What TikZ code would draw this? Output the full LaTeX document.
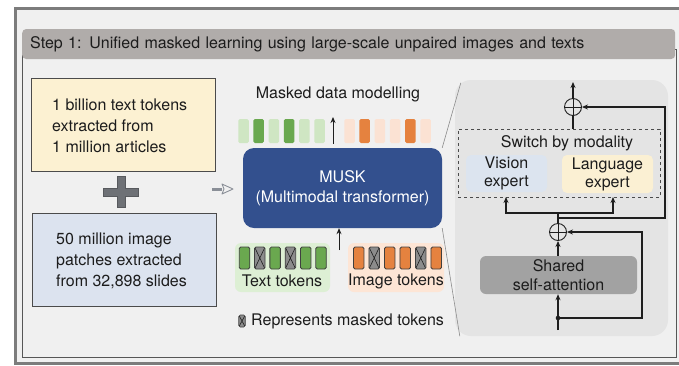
\documentclass[tikz,border=0pt]{standalone}
\usepackage{fontspec}
\setmainfont{TeX Gyre Heros}
\usetikzlibrary{arrows.meta}

\definecolor{pagebg}{HTML}{F0F0F0}
\definecolor{framec}{HTML}{7C7C7C}
\definecolor{linec}{HTML}{1E1E1E}
\definecolor{txtc}{HTML}{1C1C1C}
\definecolor{hdrc}{HTML}{B0ACAA}
\definecolor{yelc}{HTML}{FCF1D2}
\definecolor{bluec}{HTML}{DCE3EF}
\definecolor{plusc}{HTML}{6E7176}
\definecolor{muskc}{HTML}{33508E}
\definecolor{panelc}{HTML}{E4E4E4}
\definecolor{visc}{HTML}{DCE4EF}
\definecolor{langc}{HTML}{FBF0D3}
\definecolor{attc}{HTML}{A2A2A2}
\definecolor{lgreen}{HTML}{CFE6C3}
\definecolor{dgreen}{HTML}{6AA84F}
\definecolor{lorange}{HTML}{FBE2D3}
\definecolor{dorange}{HTML}{E5823F}
\definecolor{ggrp}{HTML}{DDEFD4}
\definecolor{ogrp}{HTML}{FDE5D5}
\definecolor{maskc}{HTML}{8C8C8C}
\definecolor{hollowc}{HTML}{8A8F97}

\begin{document}
\begin{tikzpicture}[x=1pt,y=-1pt,
  font=\fontsize{16}{21}\selectfont, text=txtc,
  hdr/.style={fill=hdrc, rounded corners=4pt, minimum height=30pt,
    text width=637pt, inner xsep=8pt, align=left, anchor=west},
  srcbox/.style={draw=linec!80, line width=0.9pt, minimum width=184pt,
    minimum height=93pt, inner sep=0pt},
  srctxt/.style={anchor=west, align=left, inner sep=0pt},
  musk/.style={fill=muskc, rounded corners=11pt, minimum width=199pt,
    minimum height=80pt, text=white, align=center,
    font=\fontsize{16}{20}\selectfont},
  toptok/.style={minimum width=10.5pt, minimum height=24pt, inner sep=0pt,
    rounded corners=1.5pt},
  btok/.style={draw=linec!85, line width=0.8pt, minimum width=10.5pt,
    minimum height=22pt, inner sep=0pt, rounded corners=1.5pt},
  gtok/.style={fill=dgreen},
  otok/.style={fill=dorange},
  mtok/.style={fill=maskc, path picture={
    \draw[linec, line width=0.6pt]
      (path picture bounding box.north west) -- (path picture bounding box.south east)
      (path picture bounding box.north east) -- (path picture bounding box.south west);}},
  grp/.style={rounded corners=6pt, minimum height=49pt, inner sep=0pt},
  panel/.style={fill=panelc, rounded corners=16pt, minimum width=213pt,
    minimum height=256pt, inner sep=0pt},
  expert/.style={rounded corners=5pt, align=center, inner sep=0pt,
    font=\fontsize{16}{18}\selectfont},
  attn/.style={fill=attc, rounded corners=6pt, align=center, inner sep=0pt,
    minimum width=157pt, minimum height=38pt, font=\fontsize{16}{19}\selectfont},
  oplus/.style={circle, draw=linec, line width=0.9pt, minimum size=17pt,
    inner sep=0pt, path picture={
    \draw[linec, line width=0.9pt]
      (path picture bounding box.north) -- (path picture bounding box.south)
      (path picture bounding box.west) -- (path picture bounding box.east);}},
  arr/.style={draw=linec, line width=1.1pt, -{Stealth[length=6pt,width=5pt]}},
  wire/.style={draw=linec, line width=1.1pt},
  zoomline/.style={draw=black!45, line width=0.6pt}
]
\useasboundingbox (0,0) rectangle (679,365);
\clip (0,0) rectangle (679,365);

% page and frames
\fill[white] (0,0) rectangle (679,365);
\fill[pagebg] (15,8) rectangle (700,363);
\draw[framec, line width=3pt] (15,8) rectangle (700,363);
\draw[linec!75, line width=0.9pt] (22,49) rectangle (676,357);

% title bar
\node[hdr] (title) at (22,44)
  {Step 1: Unified masked learning using large-scale unpaired images and texts};

% data sources
\node[srcbox, fill=yelc] (textsrc) at (123,124.5) {};
\node[srctxt] (textsrcl) at (52,126)
  {1 billion text tokens\\extracted from\\1 million articles};
\node[srcbox, fill=bluec] (imgsrc) at (124,259.5) {};
\node[srctxt] (imgsrcl) at (56,261)
  {50 million image\\patches extracted\\from 32,898 slides};

% plus sign between the sources
\filldraw[fill=plusc, draw=plusc!80!black, line width=0.6pt]
  (117,176.5) -- (125,176.5) -- (125,188) -- (138.5,188) -- (138.5,196)
  -- (125,196) -- (125,207.5) -- (117,207.5) -- (117,196) -- (103.5,196)
  -- (103.5,188) -- (117,188) -- cycle;

% model
\node[musk] (musk) at (342.5,188) {MUSK\\(Multimodal transformer)};

% hollow arrow into the model
\coordinate (feedA) at (212,189);
\coordinate (feedB) at (222,189);
\coordinate (feedC) at (233,189);
\draw[hollowc, line width=3pt] (feedA) -- (feedB);
\draw[hollowc, line width=0.9pt, fill=pagebg, line join=round]
  (feedB |- 0,184) -- (feedC) -- (feedB |- 0,194) -- (224,189) -- cycle;

% masked data modelling output
\node (mdm) at (338,94) {Masked data modelling};
\foreach \c [count=\i] in {lgreen,dgreen,lgreen,dgreen,lgreen,lgreen}
  \node[toptok, fill=\c] (og\i) at ({243.5+15.2*(\i-1)},131) {};
\foreach \c [count=\i] in {lorange,dorange,lorange,lorange,dorange,lorange}
  \node[toptok, fill=\c] (oo\i) at ({349.5+15.2*(\i-1)},131) {};
\coordinate (outbase) at (333,143.5);
\coordinate (outtip) at (333,117);
\draw[arr, line width=0.9pt] (outbase) -- (outtip);

% input tokens
\node[grp, fill=ggrp, minimum width=95pt] (txtgrp) at (282.5,267.5) {};
\node[grp, fill=ogrp, minimum width=96pt] (imggrp) at (396,267.5) {};
\foreach \s [count=\i] in {gtok,mtok,gtok,mtok,gtok,gtok}
  \node[btok, \s] (it\i) at ({244.5+15.3*(\i-1)},258) {};
\foreach \s [count=\i] in {otok,mtok,otok,otok,mtok,otok}
  \node[btok, \s] (ii\i) at ({358.7+15.5*(\i-1)},258) {};
\node (txtlbl) at (282,281) {Text tokens};
\node (imglbl) at (396,281) {Image tokens};
\coordinate (musin) at (339,250);
\draw[arr, line width=0.9pt] (musin) -- (musin |- musk.south);

% legend
\node[btok, mtok, minimum width=6.5pt, minimum height=12pt, line width=0.6pt]
  (legtok) at (242,321) {};
\node[anchor=west, inner sep=0pt] (legtxt) at (251,321) {Represents masked tokens};

% detail panel of one transformer block
\node[panel] (panel) at (561.5,208) {};
\draw[zoomline] (musk.north east) -- ([xshift=6pt,yshift=-3pt]panel.north west);
\draw[zoomline] (musk.south east) -- ([xshift=5pt]panel.south west);

\node[draw=linec!80, dashed, line width=0.8pt, minimum width=202pt,
  minimum height=68pt, inner sep=0pt] (switch) at (559,163) {};
\node (swlbl) at (567,143) {Switch by modality};
\node[expert, fill=visc, minimum width=81pt, minimum height=37pt]
  (vis) at (506.5,173.5) {Vision\\expert};
\node[expert, fill=langc, minimum width=91pt, minimum height=38pt]
  (lang) at (607.5,174) {Language\\expert};

\node[oplus] (addtop) at (573,107) {};
\node[oplus] (addlow) at (558,232) {};
\node[attn] (attn) at (558.5,275) {Shared\\self-attention};

% block input, attention and first residual
\coordinate (blkin) at (558,330);
\coordinate (split) at (558,318);
\draw[arr] (blkin) -- (blkin |- attn.south);
\fill[linec] (split) circle (2.3pt);
\draw[arr] (split) -- (642,318) -- (642,232) -- (addlow.east);
\draw[arr] (attn.north -| addlow) -- (addlow.south);

% experts and second residual
\coordinate (fork) at (558,213);
\coordinate (res2) at (558,218);
\draw[wire] (addlow.north) -- (fork);
\draw[arr] (fork) -- (506,213) -- (506,197);
\draw[arr] (fork) -- (613,213) -- (613,197);
\draw[arr] (res2) -- (665,218) -- (665,107) -- (addtop.east);
\draw[wire] (switch.north -| addtop) -- (addtop.south);
\coordinate (blkout) at (573,82);
\draw[arr] (addtop.north) -- (blkout);
\end{tikzpicture}
\end{document}
